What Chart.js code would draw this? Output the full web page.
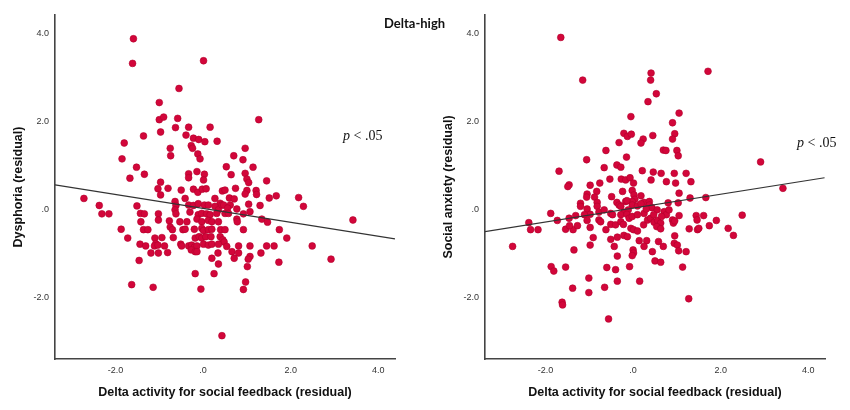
<!DOCTYPE html>
<html>
<head>
<meta charset="utf-8">
<script src="https://cdn.jsdelivr.net/npm/chart.js@4.4.1/dist/chart.umd.min.js"></script>
<style>
  body { margin: 0; background: #fff; }
  #wrap { position: relative; width: 850px; height: 410px; }
  canvas { position: absolute; top: 0; }
  #left { left: 0; }
  #right { left: 425px; }
  #group { position: absolute; left: 384px; top: 15px; font: bold 13px Lato, "Open Sans", sans-serif; color: #111; }
</style>
</head>
<body>
<div id="wrap">
  <canvas id="left" width="425" height="410"></canvas>
  <canvas id="right" width="425" height="410"></canvas>
  <div id="group">Delta-high</div>
</div>
<script>
// axis ranges and ticks
const xRange = [-3.38, 4.38];
const yRange = [-3.39, 4.43];
const xTicks = [-2, 0, 2, 4];
const yTicks = [-2, 0, 2, 4];

// left panel: delta activity (x) vs dysphoria (y)
const dysX = [-1.59,-1.61,0.01,-0.55,-1.0,-1.0,-0.9,-0.58,1.27,
  -0.63,-0.33,0.16,-0.97,-1.36,-0.39,-0.22,-0.10,0.04,0.32,-1.80,
  -0.27,-0.24,-0.75,0.96,-0.12,-0.07,-0.74,0.70,-1.85,0.91,
  0.53,1.14,-1.52,-0.14,-1.34,-0.33,-0.33,0.03,0.64,0.96,1.00,1.04,
  -1.67,0.01,1.45,-0.97,
  -1.03,-0.97,-0.80,-0.50,-0.22,-0.12,-0.02,0.07,0.44,0.50,0.74,1.00,0.96,1.21,1.22,1.67,1.51,2.18,
  -2.72,-0.41,0.27,0.60,0.71,0.39,
  -2.37,-1.51,-0.64,-0.62,-0.64,-0.33,-0.22,-0.11,0.03,0.12,0.27,0.35,0.43,0.47,0.62,0.56,0.77,1.04,1.30,2.29,
  -2.31,-2.15,-1.43,-1.34,-1.02,-0.30,-0.11,-0.03,0.08,0.16,0.31,0.50,0.58,0.92,1.07,-0.62,
  -1.42,-1.02,-0.77,-0.53,-0.37,-0.14,-0.03,0.12,0.20,0.35,0.77,0.78,1.34,1.47,3.42,
  -1.87,-1.36,-1.26,-0.75,-0.70,-0.46,-0.41,-0.20,-0.03,0.01,0.12,0.20,0.40,0.50,0.92,1.74,
  -1.72,-1.10,-0.94,-0.68,-0.18,-0.09,-0.03,0.06,0.18,0.39,0.45,1.91,
  -1.08,0.48,
  -1.44,-1.31,-1.11,-1.03,-0.88,-0.51,-0.49,-0.33,-0.26,-0.20,-0.14,0.01,0.12,0.20,0.35,0.54,0.81,1.07,1.45,1.62,2.49,
  -1.19,-1.02,-0.81,-0.27,-0.18,-0.14,0.34,0.66,0.81,1.32,
  -1.46,0.20,0.71,1.07,1.03,1.73,2.92,
  0.35,1.01,-0.18,0.25,0.97,-1.63,-1.14,-0.05,0.92,0.43];
const dysY = [3.89,3.33,3.39,2.76,2.44,2.05,2.11,2.08,2.05,
  1.87,1.88,1.88,1.77,1.68,1.70,1.63,1.60,1.55,1.56,1.52,
  1.46,1.40,1.40,1.40,1.27,1.16,1.23,1.23,1.16,1.14,
  0.98,0.97,0.97,0.87,0.81,0.82,0.73,0.81,0.80,0.83,0.70,0.62,
  0.72,0.68,0.66,0.63,
  0.48,0.34,0.49,0.45,0.47,0.40,0.47,0.48,0.43,0.45,0.49,0.44,0.36,0.44,0.35,0.32,0.27,0.28,
  0.26,0.26,0.26,0.27,0.25,0.15,
  0.10,0.09,0.19,0.10,0.0,0.11,0.10,0.14,0.11,0.11,0.08,0.0,0.11,0.11,0.11,0.04,0.02,0.13,0.10,0.08,
  -0.09,-0.09,-0.08,-0.09,-0.09,-0.05,-0.11,-0.08,-0.09,-0.11,-0.08,-0.08,-0.08,-0.09,-0.04,-0.09,
  -0.27,-0.23,-0.25,-0.27,-0.27,-0.21,-0.27,-0.24,-0.27,-0.27,-0.21,-0.27,-0.21,-0.28,-0.23,
  -0.44,-0.45,-0.45,-0.39,-0.45,-0.45,-0.44,-0.44,-0.42,-0.47,-0.45,-0.44,-0.45,-0.45,-0.45,-0.45,
  -0.64,-0.64,-0.63,-0.63,-0.64,-0.61,-0.64,-0.61,-0.61,-0.61,-0.68,-0.64,
  -0.77,-0.73,
  -0.78,-0.82,-0.82,-0.80,-0.82,-0.78,-0.82,-0.82,-0.80,-0.85,-0.82,-0.78,-0.80,-0.78,-0.78,-0.83,-0.82,-0.82,-0.82,-0.82,-0.82,
  -0.98,-0.98,-0.97,-0.91,-0.95,-0.95,-0.98,-0.95,-0.98,-0.98,
  -1.15,-1.10,-1.10,-1.06,-1.12,-1.19,-1.12,
  -1.23,-1.29,-1.45,-1.45,-1.64,-1.70,-1.76,-1.80,-1.81,-2.86];
// fitted line end points (left)
const dysFitX = [-3.38, 4.38];
const dysFitY = [0.57, -0.66];

// right panel: delta activity (x) vs social anxiety (y)
const anxX = [-1.65,-1.15,0.41,0.40,1.71,0.53,0.34,1.05,-0.05,0.90,
  -0.21,-0.13,-0.04,0.45,0.95,0.90,0.23,0.18,-0.32,-0.62,0.69,0.75,1.00,1.03,-0.15,-1.06,
  -0.37,-0.28,-0.66,0.21,-1.69,0.46,0.64,0.94,1.21,2.91,
  -0.53,-0.27,-0.17,-0.07,0.01,0.41,0.76,0.97,1.32,-1.46,-1.49,-0.98,-0.76,3.42,
  -0.24,-0.02,0.02,0.04,-0.83,-1.05,-1.06,-0.88,-0.82,-0.49,0.18,1.05,1.30,1.66,
  -1.20,-0.37,-0.17,-0.02,0.25,0.80,1.03,
  -0.32,-0.14,-0.02,0.10,0.18,0.37,0.37,
  -1.88,-2.38,-2.34,-2.17,-1.73,-2.75,
  -1.46,-1.31,-1.54,-1.37,-1.45,-1.27,-1.35,-1.87,-1.81,-1.54,-1.38,-1.62,-1.61,
  -1.20,-1.05,-0.98,-1.11,-1.05,-0.98,-0.91,-0.98,-1.01,-1.01,
  -0.82,-0.78,-0.66,-0.78,-0.74,-0.62,-0.51,-0.47,-0.51,-0.40,-0.28,-0.22,-0.51,-0.36,-0.21,-0.13,-0.43,-0.36,-0.60,-0.40,-0.36,-0.65,-0.56,
  -0.28,-0.21,-0.11,-0.28,-0.14,-0.09,-0.02,0.10,0.25,
  -0.05,0.01,0.10,0.24,0.33,0.40,0.48,0.56,0.63,0.54,0.63,
  0.14,0.31,0.58,0.25,0.0,0.01,-0.02,0.44,0.69,0.50,0.63,-0.08,0.15,
  0.71,0.76,0.82,0.90,0.92,0.95,1.05,0.95,0.94,1.01,1.04,1.21,1.13,1.27,1.28,
  1.44,1.46,1.61,1.47,1.50,1.74,1.90,2.17,2.29,2.49,
  0.43,0.55,0.30,0.47,0.65];
const anxY = [3.92,2.95,3.11,2.95,3.15,2.64,2.46,2.20,2.12,1.98,
  1.74,1.67,1.72,1.69,1.73,1.61,1.61,1.52,1.53,1.35,1.36,1.35,1.35,1.23,1.20,1.14,
  1.02,0.97,0.96,0.89,0.88,0.86,0.83,0.83,0.83,1.09,
  0.70,0.70,0.68,0.73,0.61,0.68,0.64,0.61,0.64,0.57,0.53,0.56,0.61,0.49,
  0.42,0.44,0.34,0.24,0.42,0.36,0.29,0.29,0.17,0.30,0.32,0.38,0.27,0.28,
  0.15,0.17,0.19,0.19,0.17,0.16,0.16,
  0.11,0.21,0.11,0.09,0.14,0.19,0.11,
  -0.08,-0.29,-0.45,-0.45,-0.24,-0.83,
  -0.19,-0.13,-0.44,-0.45,-0.36,-0.36,-0.91,-1.29,-1.39,-1.30,-1.78,-2.10,-2.16,
  0.08,0.02,-0.10,-0.11,-0.24,-0.40,-0.63,-0.80,-1.55,-1.88,
  0.08,-0.05,0.0,-0.23,-0.27,-0.45,-0.08,-0.11,-0.33,-0.34,-0.27,-0.33,-0.67,-0.62,-0.58,-0.61,-0.83,-1.05,-1.31,-1.36,-1.62,-1.76,-2.48,
  0.08,-0.05,0.0,-0.11,-0.10,-0.19,-0.15,-0.11,-0.08,
  -0.42,-0.45,-0.48,-0.34,-0.23,-0.19,-0.28,-0.24,-0.30,-0.38,-0.43,
  -0.70,-0.70,-0.72,-0.83,-0.91,-0.98,-1.04,-0.95,-0.83,-1.16,-1.19,-1.29,-1.62,
  -0.04,-0.11,0.0,-0.23,-0.30,-0.25,-0.13,-0.59,-0.76,-0.80,-0.93,-0.95,-1.30,-2.02,-0.43,
  -0.13,-0.23,-0.13,-0.45,-0.42,-0.36,-0.24,-0.42,-0.58,-0.12,
  0.05,0.0,0.02,-0.11,-0.15];
// fitted line end points (right)
const anxFitX = [-3.41, 4.37];
const anxFitY = [-0.50, 0.73];

const pairs = (xs, ys) => xs.map((x, i) => ({ x: x, y: ys[i] }));

const pLabel = {
  id: 'pLabel',
  afterDraw(chart, args, opts) {
    const ctx = chart.ctx;
    ctx.save();
    ctx.fillStyle = '#111';
    ctx.textBaseline = 'middle';
    ctx.font = 'italic 14px "Liberation Serif", serif';
    ctx.fillText('p', opts.x, opts.y);
    const w = ctx.measureText('p ').width;
    ctx.font = '14px "Liberation Serif", serif';
    ctx.fillText('< .05', opts.x + w, opts.y);
    ctx.restore();
  }
};

function makeChart(id, xs, ys, fitX, fitY, yTitle, padLeft, padRight, pPos) {
  const config = {
    type: 'scatter',
    data: {
      datasets: [
        {
          type: 'line',
          data: pairs(fitX, fitY),
          borderColor: '#333',
          borderWidth: 1.2,
          pointRadius: 0,
          fill: false,
          order: 0,
        },
        {
          data: pairs(xs, ys),
          backgroundColor: '#d2063a',
          borderColor: '#b3002c',
          borderWidth: 0.6,
          pointRadius: 3.4,
          order: 1,
        },
      ],
    },
    options: {
      responsive: false,
      animation: false,
      layout: { padding: { top: 15, left: padLeft, right: padRight, bottom: 0 } },
      plugins: { legend: { display: false }, tooltip: { enabled: false }, pLabel: pPos },
      scales: {
        x: {
          type: 'linear',
          min: xRange[0],
          max: xRange[1],
          afterBuildTicks: (axis) => { axis.ticks = xTicks.map((v) => ({ value: v })); },
          afterFit: (axis) => { axis.height = 51; },
          grid: { display: false, drawTicks: false },
          border: { color: '#444', width: 1.6 },
          ticks: {
            padding: 6,
            color: '#333',
            font: { family: '"Liberation Sans", Arial, sans-serif', size: 9 },
            callback: (v) => (v === 0 ? '.0' : v.toFixed(1)),
          },
          title: {
            display: true,
            text: 'Delta activity for social feedback (residual)',
            color: '#111',
            padding: { top: 0, bottom: 10 },
            font: { family: '"Liberation Sans", Arial, sans-serif', size: 12.5, weight: 'bold' },
          },
        },
        y: {
          type: 'linear',
          min: yRange[0],
          max: yRange[1],
          afterBuildTicks: (axis) => { axis.ticks = yTicks.map((v) => ({ value: v })); },
          afterFit: (axis) => { axis.width = 55; },
          grid: { display: false, drawTicks: false },
          border: { color: '#444', width: 1.6 },
          ticks: {
            padding: 6,
            color: '#333',
            font: { family: '"Liberation Sans", Arial, sans-serif', size: 9 },
            callback: (v) => (v === 0 ? '.0' : v.toFixed(1)),
          },
          title: {
            display: true,
            text: yTitle,
            color: '#111',
            padding: { top: 11, bottom: 0 },
            font: { family: '"Liberation Sans", Arial, sans-serif', size: 12.5, weight: 'bold' },
          },
        },
      },
    },
    plugins: [pLabel],
  };
  return new Chart(document.getElementById(id), config);
}

makeChart('left', dysX, dysY, dysFitX, dysFitY, 'Dysphoria (residual)', 0, 30, { x: 343, y: 136 });
makeChart('right', anxX, anxY, anxFitX, anxFitY, 'Social anxiety (residual)', 5, 25, { x: 372, y: 143 });
</script>
</body>
</html>
